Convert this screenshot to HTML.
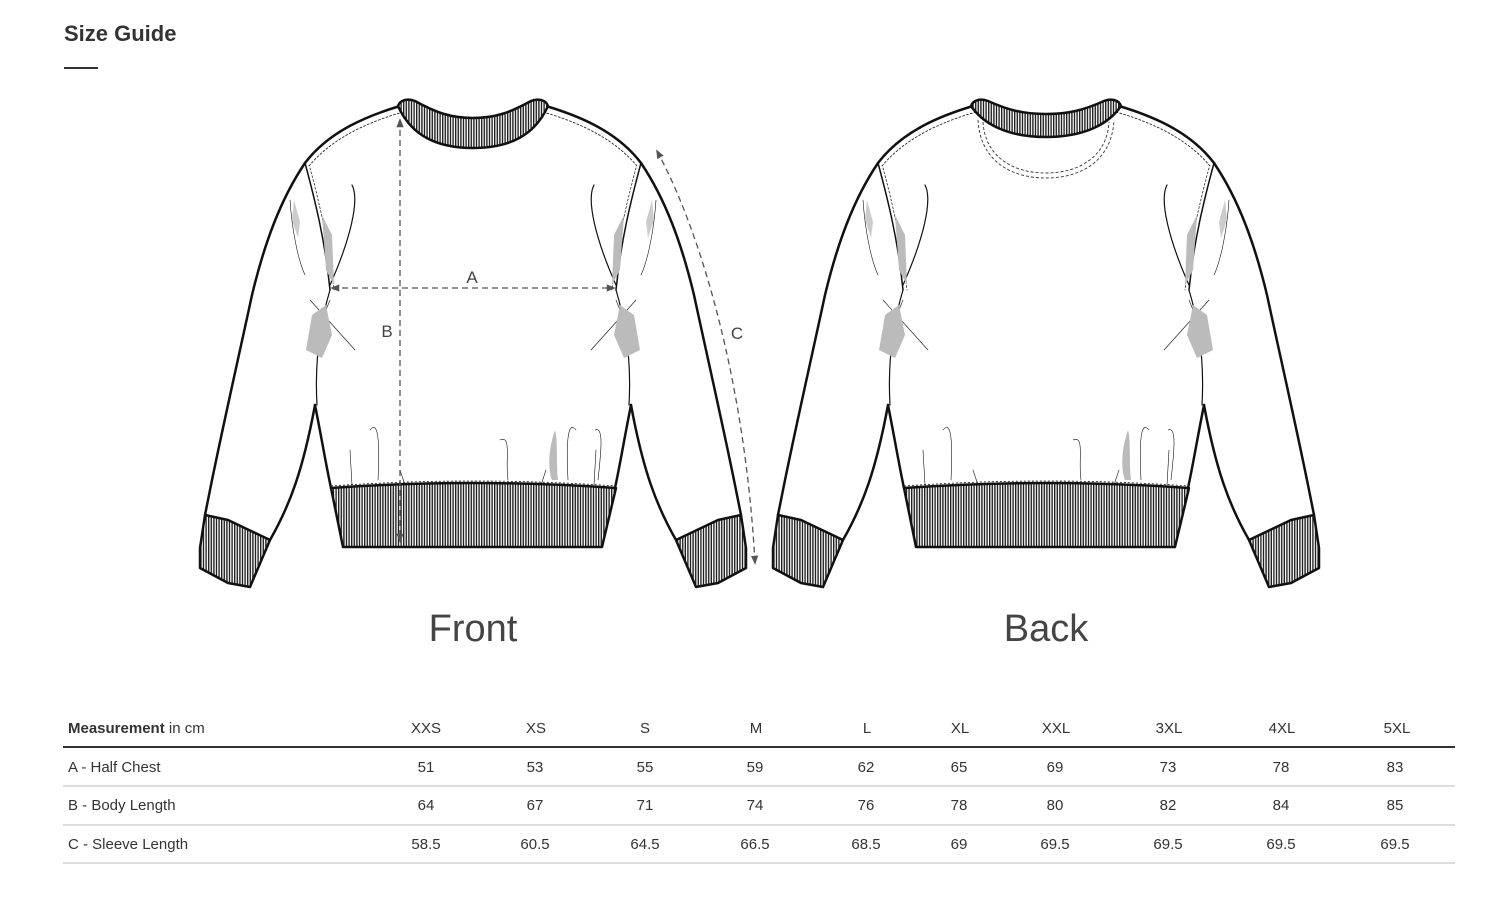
<!DOCTYPE html>
<html><head><meta charset="utf-8"><style>
html,body{margin:0;padding:0;background:#fff;width:1488px;height:906px;overflow:hidden}
svg{position:absolute;left:0;top:0}
text{font-family:"Liberation Sans",sans-serif}
</style></head><body>
<svg width="1488" height="906" viewBox="0 0 1488 906">
<defs>
<pattern id="rib" width="2.6" height="10" patternUnits="userSpaceOnUse">
<rect width="2.6" height="10" fill="#fff"/><rect width="1.4" height="10" fill="#222"/>
</pattern>
<marker id="ar" viewBox="0 0 10 10" refX="8" refY="5" markerWidth="7" markerHeight="7" orient="auto-start-reverse">
<path d="M0,1 L10,5 L0,9 Z" fill="#555"/></marker>
<g id="half" fill="none" stroke="#111" stroke-linejoin="round" stroke-linecap="round">
  <path d="M400,106 C370,115 330,130 305,163" stroke-width="2.5"/>
  <path d="M403,112 C372,121 334,136 309,166" stroke-width="0.8" stroke-dasharray="2 2"/>
  <path d="M305,163 C280,200 264,245 252,295 C238,360 222,430 210,490 L205,515" stroke-width="2.5"/>
  <path d="M205,515 L228,520 L270,540 L250,587 L228,583 L200,568 L200,548 Z" fill="url(#rib)" stroke-width="2.5"/>
  <path d="M270,540 C290,505 303,470 315,405" stroke-width="2.5"/>
  <path d="M315,405 C322,440 326,465 331,488" stroke-width="2.5"/>
  <path d="M317,405 C315,370 318,330 330,290" stroke-width="1.2"/>
  <path d="M305,163 C315,200 325,240 330,290" stroke-width="1.5"/>
  <path d="M310,168 C320,205 329,245 334,290" stroke-width="0.7" stroke-dasharray="2 2"/>
  <path d="M352,185 C360,200 350,240 330,285" stroke-width="1.2"/>
  <path d="M290,200 C292,230 298,260 305,275" stroke-width="0.6"/>
  <path d="M310,300 L355,350 M330,300 L318,330" stroke-width="0.6"/>
  <path d="M370,430 C378,420 380,440 378,480 M350,450 L352,485 M400,470 L405,485" stroke-width="0.6"/>
  <path d="M322,215 L332,235 L334,285 L326,270 Z" fill="#bbb" stroke="none"/>
  <path d="M312,315 L326,305 L332,335 L322,358 L306,350 Z" fill="#bbb" stroke="none"/>
  <path d="M294,200 L300,222 L298,238 L292,220 Z" fill="#ccc" stroke="none"/>
</g>
<g id="body" fill="none" stroke="#111" stroke-linejoin="round">
  <use href="#half"/>
  <use href="#half" transform="translate(946,0) scale(-1,1)"/>
  <path d="M331,488 Q473,478 616,488 L602,547 L343,547 Z" fill="url(#rib)" stroke-width="2.5"/>
  <path d="M331,486 Q473,476 616,486" stroke-width="0.8" stroke-dasharray="2 2"/>
  <path d="M555,430 C548,450 548,470 552,480 L558,480 C556,460 558,440 555,430 Z" fill="#bbb" stroke="none"/>
  <path d="M500,440 C512,435 505,460 508,480 M595,430 C605,425 600,460 598,480" stroke-width="0.6"/>
</g>
</defs>

<text x="64" y="41" font-size="22" font-weight="bold" fill="#333">Size Guide</text>
<rect x="64" y="67" width="34" height="2" fill="#333"/>

<use href="#body"/>
<path d="M398,106 C400,100 408,98 415,101 C435,112 450,118 473,118 C496,118 511,112 531,101 C538,98 546,100 548,106 C535,135 510,148 473,148 C436,148 411,135 398,106 Z" fill="url(#rib)" stroke="#111" stroke-width="2.5"/>
<g stroke="#555" stroke-width="1.3" fill="none" stroke-dasharray="6 4">
<line x1="400" y1="120" x2="400" y2="541" marker-start="url(#ar)" marker-end="url(#ar)"/>
<line x1="332" y1="288" x2="614" y2="288" marker-start="url(#ar)" marker-end="url(#ar)"/>
<path d="M657,151 C700,230 745,380 755,563" marker-start="url(#ar)" marker-end="url(#ar)"/>
</g>
<text x="472" y="283" font-size="17" fill="#444" text-anchor="middle">A</text>
<text x="387" y="337" font-size="17" fill="#444" text-anchor="middle">B</text>
<text x="737" y="339" font-size="17" fill="#444" text-anchor="middle">C</text>
<text x="473" y="641" font-size="38" fill="#444" text-anchor="middle">Front</text>

<use href="#body" transform="translate(573,0)"/>
<path d="M971,106 C973,100 981,98 988,101 C1008,110 1023,114 1046,114 C1069,114 1084,110 1104,101 C1111,98 1119,100 1121,106 C1108,125 1083,137 1046,137 C1009,137 984,125 971,106 Z" fill="url(#rib)" stroke="#111" stroke-width="2.5"/>
<path d="M978,120 C980,160 1010,178 1046,178 C1082,178 1112,160 1114,120" fill="none" stroke="#333" stroke-width="0.9" stroke-dasharray="3 2"/>
<path d="M983,122 C985,156 1012,173 1046,173 C1080,173 1107,156 1109,122" fill="none" stroke="#333" stroke-width="0.9" stroke-dasharray="3 2"/>
<text x="1046" y="641" font-size="38" fill="#444" text-anchor="middle">Back</text>

<g font-size="15" fill="#333">
<text x="68" y="733"><tspan font-weight="bold">Measurement</tspan> in cm</text>
<text x="68" y="772">A - Half Chest</text>
<text x="68" y="810">B - Body Length</text>
<text x="68" y="849">C - Sleeve Length</text>
<g text-anchor="middle">
<text x="426" y="733">XXS</text><text x="536" y="733">XS</text><text x="645" y="733">S</text><text x="756" y="733">M</text><text x="867" y="733">L</text><text x="960" y="733">XL</text><text x="1056" y="733">XXL</text><text x="1169" y="733">3XL</text><text x="1282" y="733">4XL</text><text x="1397" y="733">5XL</text>
<text x="426" y="772">51</text><text x="535" y="772">53</text><text x="645" y="772">55</text><text x="755" y="772">59</text><text x="866" y="772">62</text><text x="959" y="772">65</text><text x="1055" y="772">69</text><text x="1168" y="772">73</text><text x="1281" y="772">78</text><text x="1395" y="772">83</text>
<text x="426" y="810">64</text><text x="535" y="810">67</text><text x="645" y="810">71</text><text x="755" y="810">74</text><text x="866" y="810">76</text><text x="959" y="810">78</text><text x="1055" y="810">80</text><text x="1168" y="810">82</text><text x="1281" y="810">84</text><text x="1395" y="810">85</text>
<text x="426" y="849">58.5</text><text x="535" y="849">60.5</text><text x="645" y="849">64.5</text><text x="755" y="849">66.5</text><text x="866" y="849">68.5</text><text x="959" y="849">69</text><text x="1055" y="849">69.5</text><text x="1168" y="849">69.5</text><text x="1281" y="849">69.5</text><text x="1395" y="849">69.5</text>
</g>
</g>
<rect x="63" y="746" width="1392" height="2" fill="#333"/>
<rect x="63" y="785" width="1392" height="2" fill="#ddd"/>
<rect x="63" y="824" width="1392" height="2" fill="#ddd"/>
<rect x="63" y="862" width="1392" height="2" fill="#ddd"/>
</svg>
</body></html>
